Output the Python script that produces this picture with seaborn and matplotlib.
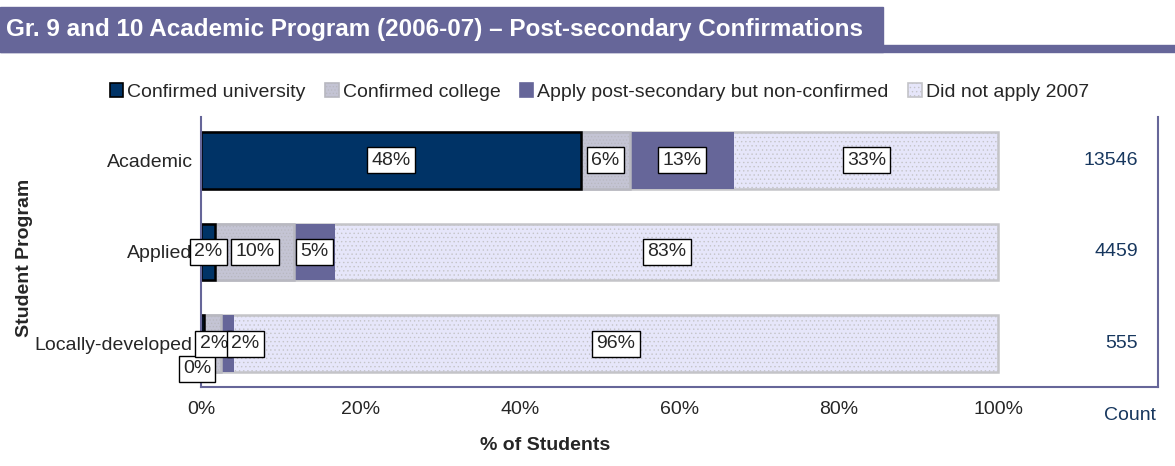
import numpy as np
import pandas as pd
import seaborn as sns
import matplotlib.pyplot as plt
from matplotlib.patches import Rectangle, Patch

sns.set_style("white")
plt.rcParams['font.family'] = ['Liberation Sans', 'DejaVu Sans']
plt.rcParams['hatch.linewidth'] = 0.5

programs = ['Academic', 'Applied', 'Locally-developed']
series = ['Confirmed university', 'Confirmed college',
          'Apply post-secondary but non-confirmed', 'Did not apply 2007']
univ = [47.6, 1.8, 0.4]
college = [6.2, 9.9, 2.1]
nonconf = [13.1, 5.1, 1.6]
noapply = [33.1, 83.2, 95.9]
counts = [13546, 4459, 555]
xticks = [0, 20, 40, 60, 80, 100]

colors = ['#003366', '#C4C4D4', '#666699', '#E6E6FA']
edges = ['#000000', '#B8B8C0', '#666699', '#C4C4C8']
hatches = [None, '.....', None, '....']

df = pd.DataFrame({'program': programs, series[0]: univ, series[1]: college,
                   series[2]: nonconf, series[3]: noapply})
cum = df[series].cumsum(axis=1)

fig = plt.figure(figsize=(11.75, 4.66), dpi=100)
ax = fig.add_axes([0.171, 0.1695, 0.8145, 0.5795])

# draw cumulative bars from the widest to the narrowest
for i in range(3, -1, -1):
    sns.barplot(x=cum[series[i]], y=df['program'], orient='h', ax=ax,
                color=colors[i], width=0.62, saturation=1,
                edgecolor=edges[i], linewidth=1.8 if i != 2 else 0)
    for bar in ax.patches[-3:]:
        if hatches[i]:
            bar.set_hatch(hatches[i])

# labels on segments
nudge = {(2, 0): (-4, -18), (2, 1): (1, 0), (2, 2): (13, 0)}
for r in range(3):
    left = 0
    for i in range(4):
        v = df.loc[r, series[i]]
        dx, dy = nudge.get((r, i), (0, 0))
        ax.annotate(f"{round(v):d}%", (left + v / 2, r), xytext=(dx, dy),
                    textcoords='offset points', ha='center', va='center',
                    fontsize=14,
                    bbox=dict(boxstyle='square,pad=0.22', fc='white', ec='black', lw=1))
        left += v
    ax.text(117.5, r, str(counts[r]), ha='right', va='center', fontsize=14, color='#17375E')

ax.text(116.5, 2.78, 'Count', ha='center', va='center', fontsize=14, color='#17375E')

ax.set_xlim(0, 120)
ax.set_ylim(2.47, -0.47)
ax.set_xticks(xticks + [120])
ax.set_xticklabels([f"{t}%" for t in xticks] + [''], fontsize=14)
ax.tick_params(axis='x', direction='inout', length=8, width=1.2, color='#666699', pad=6)
ax.tick_params(axis='y', length=0, labelsize=14, pad=6)
for s in ['left', 'bottom', 'right']:
    ax.spines[s].set_color('#666699')
    ax.spines[s].set_linewidth(1.5)
ax.spines['top'].set_visible(False)
ax.set_xlabel('% of Students', fontsize=14, fontweight='bold')
ax.xaxis.set_label_coords(0.36, -0.185)
ax.set_ylabel('Student Program', fontsize=14, fontweight='bold')
ax.yaxis.set_label_coords(-0.175, 0.48)

handles = [Patch(facecolor=colors[i], edgecolor=edges[i] if i != 1 else '#B8B8C0',
                 hatch=hatches[i], lw=1.2) for i in range(4)]
fig.legend(handles, series, loc='center', bbox_to_anchor=(0.51, 0.802), ncol=4,
           frameon=False, fontsize=14, handlelength=0.7, handleheight=0.7,
           handletextpad=0.2, columnspacing=1.0)

# title band
fig.patches.append(Rectangle((0, 0.888), 1, 0.015, transform=fig.transFigure,
                             color='#666699', zorder=0))
fig.patches.append(Rectangle((0, 0.888), 0.7515, 0.097, transform=fig.transFigure,
                             color='#666699', zorder=0))
fig.text(0.005, 0.937, 'Gr. 9 and 10 Academic Program (2006-07) \u2013 Post-secondary Confirmations',
         color='white', fontsize=17.5, fontweight='bold', va='center', ha='left')

fig.savefig('out.png', dpi=100)
